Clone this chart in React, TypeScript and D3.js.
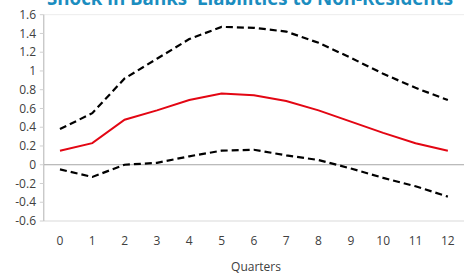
import React from "react";
import * as d3 from "d3";

const quarters = [0, 1, 2, 3, 4, 5, 6, 7, 8, 9, 10, 11, 12];
const upper = [0.38, 0.55, 0.92, 1.13, 1.34, 1.47, 1.46, 1.42, 1.3, 1.14, 0.97, 0.82, 0.69];
const median = [0.15, 0.23, 0.48, 0.58, 0.69, 0.76, 0.74, 0.68, 0.58, 0.46, 0.34, 0.23, 0.15];
const lower = [-0.05, -0.13, 0.0, 0.02, 0.09, 0.15, 0.16, 0.1, 0.05, -0.04, -0.14, -0.23, -0.34];
const yTicks = [-0.6, -0.4, -0.2, 0, 0.2, 0.4, 0.6, 0.8, 1, 1.2, 1.4, 1.6];
const title = "Shock in Banks' Liabilities to Non-Residents";
const xTitle = "Quarters";

export default function App() {
  const W = 466, H = 274;
  const left = 43.8, right = 464, top = 14.7, bottom = 221;
  const x = d3.scaleBand<number>().domain(quarters).range([left, right]);
  const cx = (q: number) => (x(q) as number) + x.bandwidth() / 2;
  const y = d3.scaleLinear().domain([-0.6, 1.6]).range([bottom, top]);
  const line = d3.line<number>().x((_, i) => cx(quarters[i])).y((d) => y(d));
  const font = "'Open Sans', 'Noto Sans', sans-serif";
  const fmt = (v: number) => String(Math.round(v * 10) / 10);
  return (
    <svg width={W} height={H} style={{ position: "absolute", left: 0, top: 0 }}>
      <rect width={W} height={H} fill="#fff" />
      <text x={250} y={5} textAnchor="middle" fontFamily={font} fontWeight="bold" fontSize={20} fill="#1b8dbf" textLength={406} lengthAdjust="spacingAndGlyphs">{title}</text>
      <line x1={left} x2={right} y1={y(1.6)} y2={y(1.6)} stroke="#ececec" />
      <line x1={left} x2={right} y1={y(-0.6)} y2={y(-0.6)} stroke="#d9d9d9" />
      <line x1={left} x2={right} y1={y(0)} y2={y(0)} stroke="#a6a6a6" />
      <line x1={left} x2={left} y1={top} y2={bottom} stroke="#b3b3b3" />
      {yTicks.map((t) => (
        <g key={t}>
          <line x1={left - 4} x2={left} y1={y(t)} y2={y(t)} stroke="#d0d0d0" />
          <text x={36} y={y(t)} dy="0.35em" textAnchor="end" fontFamily={font} fontSize={12} fill="#404040">{fmt(t)}</text>
        </g>
      ))}
      {quarters.map((q) => (
        <text key={q} x={cx(q)} y={241} dy="0.35em" textAnchor="middle" fontFamily={font} fontSize={12} fill="#404040">{q}</text>
      ))}
      <text x={256} y={267} dy="0.35em" textAnchor="middle" fontFamily={font} fontSize={12} fill="#404040">{xTitle}</text>
      <path d={line(upper) || ""} fill="none" stroke="#000" strokeWidth={2.2} strokeDasharray="7,4" />
      <path d={line(lower) || ""} fill="none" stroke="#000" strokeWidth={2.2} strokeDasharray="7,4" />
      <path d={line(median) || ""} fill="none" stroke="#e30613" strokeWidth={2} />
    </svg>
  );
}
